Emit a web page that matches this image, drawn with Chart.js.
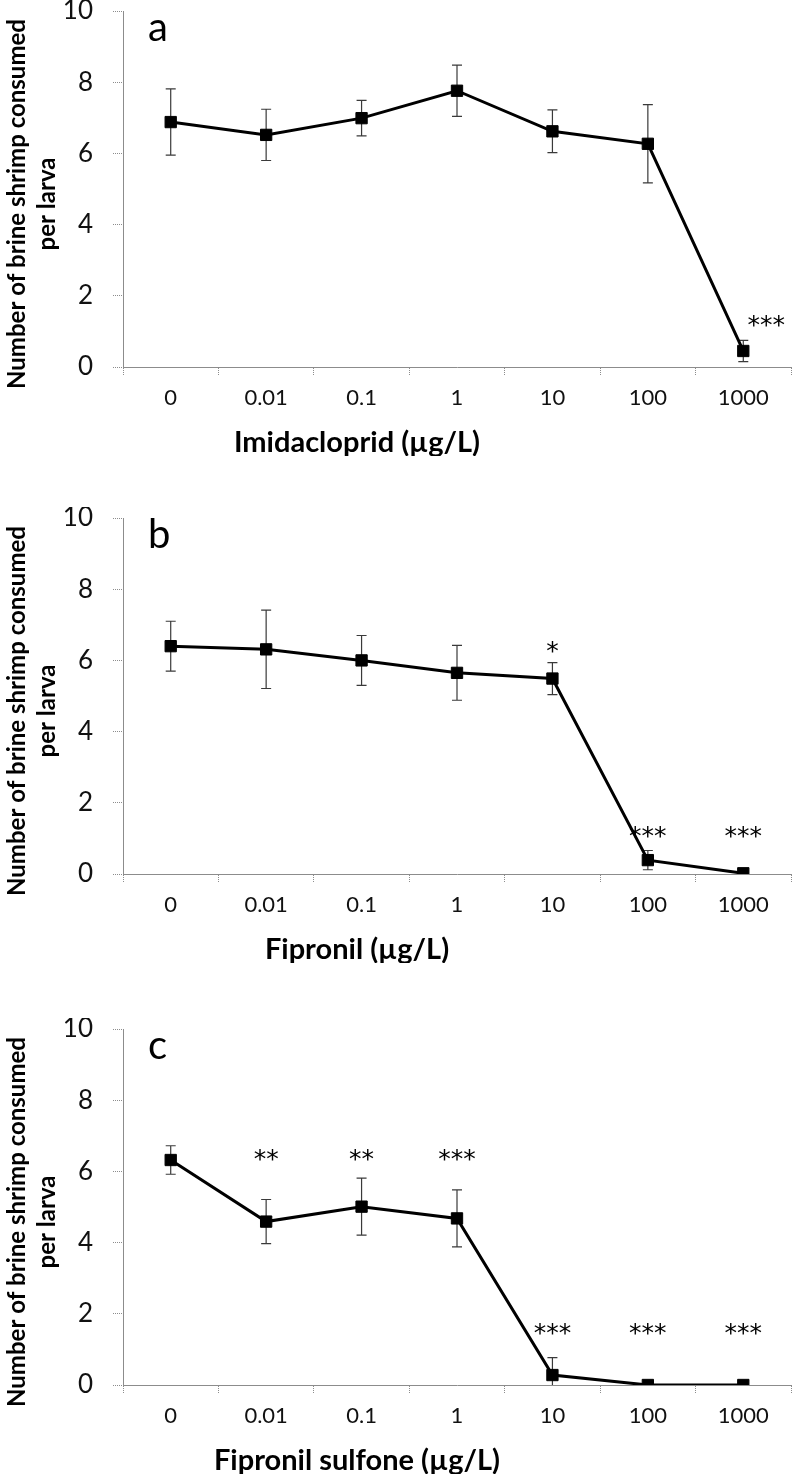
<!DOCTYPE html>
<html>
<head>
<meta charset="utf-8">
<script src="https://cdn.jsdelivr.net/npm/chart.js@4.4.0/dist/chart.umd.min.js"></script>
<style>
  body { margin: 0; background: #fff; }
  .panel { position: absolute; left: 0; width: 800px; height: 456px; }
</style>
</head>
<body>
<div class="panel" style="top:0px"><canvas id="chart-a" width="800" height="456"></canvas></div>
<div class="panel" style="top:507px"><canvas id="chart-b" width="800" height="456"></canvas></div>
<div class="panel" style="top:1018px"><canvas id="chart-c" width="800" height="456"></canvas></div>
<script>
// Shared categories (concentration, µg/L)
const concentrations = ['0', '0.01', '0.1', '1', '10', '100', '1000'];
const yTicks = [0, 2, 4, 6, 8, 10];

// a: Imidacloprid
const imidaclopridMean = [6.88, 6.52, 6.99, 7.76, 6.62, 6.27, 0.45];
const imidaclopridErr  = [0.93, 0.72, 0.50, 0.72, 0.60, 1.10, 0.30];
const imidaclopridSig  = ['', '', '', '', '', '', '***'];
const imidaclopridSigAt = [null, null, null, null, null, null, 1.28];

// b: Fipronil
const fipronilMean = [6.40, 6.31, 6.00, 5.65, 5.49, 0.39, 0.02];
const fipronilErr  = [0.70, 1.10, 0.70, 0.77, 0.45, 0.27, 0];
const fipronilSig  = ['', '', '', '', '*', '***', '***'];
const fipronilSigAt = [null, null, null, null, 6.38, 1.19, 1.19];

// c: Fipronil sulfone
const sulfoneMean = [6.32, 4.59, 5.01, 4.68, 0.28, 0, 0];
const sulfoneErr  = [0.40, 0.62, 0.80, 0.80, 0.49, 0, 0];
const sulfoneSig  = ['', '**', '**', '***', '***', '***', '***'];
const sulfoneSigAt = [null, 6.46, 6.46, 6.46, 1.56, 1.56, 1.56];

const FONT = "Lato, 'Open Sans', sans-serif";
const AXIS_GREY = '#8c8c8c';

// Error bars, drawn under the markers
const errorBarPlugin = {
  id: 'errorBars',
  beforeDatasetsDraw(chart, args, opts) {
    const ctx = chart.ctx;
    const x = chart.scales.x, y = chart.scales.y;
    ctx.save();
    ctx.strokeStyle = '#3a3a3a';
    ctx.lineWidth = 1.2;
    opts.means.forEach((m, i) => {
      const e = opts.errors[i];
      if (!e) return;
      const px = x.getPixelForValue(i);
      const top = y.getPixelForValue(m + e);
      const bot = y.getPixelForValue(Math.max(0, m - e));
      ctx.beginPath();
      ctx.moveTo(px, top); ctx.lineTo(px, bot);
      ctx.moveTo(px - 5, top); ctx.lineTo(px + 5, top);
      if (m - e > 0) { ctx.moveTo(px - 5, bot); ctx.lineTo(px + 5, bot); }
      ctx.stroke();
    });
    ctx.restore();
  }
};

// Titles, panel letter, significance stars
const textPlugin = {
  id: 'panelText',
  afterDraw(chart, args, opts) {
    const ctx = chart.ctx;
    const area = chart.chartArea;
    const x = chart.scales.x, y = chart.scales.y;
    ctx.save();
    ctx.fillStyle = '#000';

    // y title, two rotated lines
    ctx.font = `bold 24px ${FONT}`;
    ctx.textAlign = 'center';
    ctx.textBaseline = 'middle';
    const cy = area.top + 193;
    [['Number of brine shrimp consumed', 17], ['per larva', 47]].forEach(([t, tx]) => {
      ctx.save();
      ctx.translate(tx, cy);
      ctx.rotate(-Math.PI / 2);
      ctx.fillText(t, 0, 0);
      ctx.restore();
    });

    // x title
    ctx.font = `bold 29px ${FONT}`;
    ctx.fillText(opts.xTitle, 357, area.bottom + 76);

    // panel letter
    ctx.font = `40px ${FONT}`;
    ctx.textAlign = 'left';
    ctx.textBaseline = 'alphabetic';
    ctx.fillText(opts.letter, 148, y.getPixelForValue(9.15));

    // stars
    ctx.font = `25px 'DejaVu Sans', sans-serif`;
    ctx.textAlign = 'center';
    opts.sig.forEach((s, i) => {
      if (!s) return;
      const m = ctx.measureText(s);
      const off = (m.actualBoundingBoxAscent - m.actualBoundingBoxDescent) / 2;
      const px = x.getPixelForValue(i) + (opts.sigShift ? opts.sigShift[i] : 0);
      ctx.fillText(s, px, y.getPixelForValue(opts.sigAt[i]) + off);
    });
    ctx.restore();
  }
};

function makePanel(id, means, errors, sig, sigAt, letter, xTitle, sigShift) {
  return new Chart(document.getElementById(id), {
    type: 'line',
    data: {
      labels: concentrations,
      datasets: [{
        data: means,
        borderColor: '#000',
        borderWidth: 3,
        backgroundColor: '#000',
        pointStyle: 'rect',
        pointRadius: 8,
        pointBorderWidth: 1,
        pointBackgroundColor: '#000',
        pointBorderColor: '#000',
        tension: 0
      }]
    },
    options: {
      responsive: false,
      animation: false,
      layout: { padding: { top: 11, right: 1, left: 0, bottom: 0 } },
      plugins: {
        legend: { display: false },
        tooltip: { enabled: false },
        errorBars: { means: means, errors: errors },
        panelText: { letter: letter, xTitle: xTitle, sig: sig, sigAt: sigAt, sigShift: sigShift }
      },
      scales: {
        x: {
          offset: true,
          grid: {
            offset: true, drawOnChartArea: false, drawTicks: true, tickLength: 8,
            color: AXIS_GREY, tickBorderDash: [1, 1]
          },
          border: { display: true, color: AXIS_GREY, width: 1, dash: [1, 1] },
          ticks: { color: '#111', font: { family: FONT, size: 22 }, padding: 10, maxRotation: 0 },
          afterFit(scale) { scale.height = 89; scale.paddingLeft = 0; scale.paddingRight = 0; }
        },
        y: {
          min: 0,
          max: 10,
          afterBuildTicks(scale) { scale.ticks = yTicks.map(v => ({ value: v })); },
          grid: {
            drawOnChartArea: false, drawTicks: true, tickLength: 10,
            color: AXIS_GREY, tickBorderDash: [1, 1]
          },
          border: { display: true, color: AXIS_GREY, width: 1, dash: [1, 1] },
          ticks: { color: '#111', font: { family: FONT, size: 26 }, padding: 20 },
          afterFit(scale) { scale.width = 123; scale.paddingTop = 0; scale.paddingBottom = 0; }
        }
      }
    },
    plugins: [errorBarPlugin, textPlugin]
  });
}

makePanel('chart-a', imidaclopridMean, imidaclopridErr, imidaclopridSig, imidaclopridSigAt,
  'a', 'Imidacloprid (\u00b5g/L)', [0, 0, 0, 0, 0, 0, 23]);
makePanel('chart-b', fipronilMean, fipronilErr, fipronilSig, fipronilSigAt,
  'b', 'Fipronil (\u00b5g/L)');
makePanel('chart-c', sulfoneMean, sulfoneErr, sulfoneSig, sulfoneSigAt,
  'c', 'Fipronil sulfone (\u00b5g/L)');
</script>
</body>
</html>
